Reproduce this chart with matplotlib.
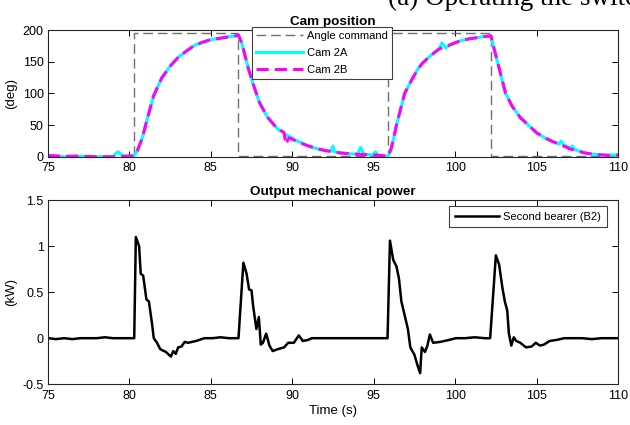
import matplotlib
matplotlib.use('Agg')
import matplotlib.pyplot as plt

plt.rcParams['font.family'] = ['Liberation Sans', 'DejaVu Sans']
plt.rcParams['font.size'] = 8

# Angle command (step)
cmd_t = [75, 80.3, 80.3, 86.7, 86.7, 95.9, 95.9, 102.2, 102.2, 110]
cmd_deg = [0, 0, 195, 195, 2, 2, 195, 195, 2, 2]

# Cam 2A position
cam_a_t = [75, 76, 77, 78, 79, 79.3, 79.6, 80, 80.3, 80.5, 80.8, 81.1, 81.5, 82, 82.5, 83, 83.5,
           84, 84.5, 85, 85.5, 86, 86.5, 86.7, 86.9, 87.1, 87.3, 87.6, 88, 88.5, 89, 89.2, 89.4,
           89.6, 90, 90.2, 90.5, 91, 91.5, 92, 92.4, 92.5, 92.6, 93, 94, 94.2, 94.4, 95, 95.1,
           95.3, 95.9, 96.1, 96.4, 96.9, 97.3, 97.7, 98, 98.5, 99, 99.2, 99.4, 99.8, 100.3,
           100.8, 101.3, 101.8, 102.2, 102.4, 102.6, 102.9, 103.1, 103.5, 104, 104.5, 105,
           105.5, 106, 106.4, 106.5, 106.7, 107.1, 107.2, 107.3, 107.5, 108, 108.5, 109, 110]
cam_a = [1, 0, 1, 0, 1, 8, 2, 1, 2, 10, 30, 60, 97, 125, 143, 157, 167,
         176, 181, 185, 187, 189, 191, 192, 180, 160, 140, 115, 85, 62, 47, 42, 40,
         35, 30, 26, 23, 17, 13, 10, 9, 17, 8, 6, 4, 15, 4, 3, 8,
         2, 1, 15, 50, 100, 120, 138, 148, 160, 170, 180, 172, 178, 183,
         186, 188, 190, 191, 170, 150, 120, 100, 80, 62, 50, 38,
         30, 24, 20, 25, 18, 14, 17, 12, 10, 6, 4, 3, 3]

# Cam 2B position
cam_b_t = [75, 76, 77, 78, 79, 80, 80.3, 80.5, 80.8, 81.1, 81.5, 82, 82.5, 83, 83.5,
           84, 84.5, 85, 85.5, 86, 86.5, 86.7, 86.9, 87.1, 87.3, 87.6, 88, 88.5, 89, 89.5,
           89.6, 89.8, 90.5, 91, 91.5, 92, 93, 94, 95, 95.9, 96.1, 96.4, 96.9, 97.3, 97.7, 98,
           98.5, 99, 99.4, 99.8, 100.3, 100.8, 101.3, 101.8, 102.2, 102.4, 102.6, 102.9, 103.1,
           103.5, 104, 104.5, 105, 105.5, 106, 106.5, 107, 107.5, 108, 108.5, 109, 109.5, 110]
cam_b = [2, 1, 1, 0, 0, 1, 2, 10, 30, 60, 97, 125, 143, 157, 167,
         176, 181, 185, 187, 189, 191, 192, 180, 160, 140, 115, 85, 62, 47, 38,
         20, 30, 22, 17, 13, 10, 6, 4, 3, 1, 15, 50, 100, 120, 138, 148,
         160, 170, 174, 178, 183, 186, 188, 190, 191, 170, 150, 120, 100,
         80, 62, 50, 38, 30, 24, 19, 13, 9, 6, 4, 3, 2, 3]

# Output mechanical power, second bearer (B2)
pow_t = [75, 75.5, 76, 76.5, 77, 77.5, 78, 78.5, 79, 79.5, 80, 80.3, 80.4, 80.6, 80.7, 80.85,
         81.05, 81.2, 81.4, 81.5, 81.7, 81.9, 82.25, 82.55, 82.7, 82.85, 83.0, 83.2, 83.4, 83.6,
         84.1, 84.6, 85.1, 85.6, 86.1, 86.7, 87.0, 87.2, 87.35, 87.5, 87.6, 87.8, 87.95, 88.07,
         88.2, 88.4, 88.6, 88.8, 89.1, 89.5, 89.75, 90.1, 90.4, 90.65, 90.95, 91.2, 91.8, 92.4,
         93, 93.6, 94.2, 94.8, 95.4, 95.85, 96.0, 96.2, 96.4, 96.55, 96.7, 96.9, 97.1, 97.25,
         97.5, 97.7, 97.85, 97.95, 98.15, 98.3, 98.45, 98.65, 99.1, 99.6, 100.05, 100.6, 101.2,
         101.8, 102.15, 102.5, 102.7, 102.9, 103.05, 103.2, 103.3, 103.45, 103.6, 103.75,
         104.0, 104.35, 104.7, 104.95, 105.2, 105.45, 105.8, 106.2, 106.7, 107.2, 107.8,
         108.4, 109, 109.5, 110]
pow_kw = [0, -0.01, 0.0, -0.01, 0.0, 0.0, 0.0, 0.01, 0.0, 0.0, 0.0, 0.0, 1.1, 1.0, 0.7, 0.68,
          0.42, 0.4, 0.15, 0.0, -0.05, -0.12, -0.15, -0.2, -0.14, -0.17, -0.1, -0.09, -0.04,
          -0.05, -0.03, 0.0, 0.0, 0.01, 0.0, 0.0, 0.82, 0.7, 0.53, 0.52, 0.35, 0.1, 0.23, -0.07,
          -0.05, 0.05, -0.08, -0.14, -0.12, -0.1, -0.05, -0.05, 0.03, -0.03, -0.02, 0.0, 0.0,
          0.0, 0.0, 0.0, 0.0, 0.0, 0.0, 0.0, 1.06, 0.85, 0.78, 0.65, 0.4, 0.25, 0.1, -0.1,
          -0.18, -0.3, -0.38, -0.1, -0.15, -0.08, 0.04, -0.05, -0.04, -0.02, 0.0, 0.0, 0.01,
          0.0, 0.0, 0.9, 0.8, 0.55, 0.4, 0.3, 0.05, -0.08, 0.01, -0.03,
          -0.05, -0.1, -0.09, -0.05, -0.08, -0.07, -0.03, -0.02, 0.0, 0.0, 0.0,
          -0.01, 0.0, 0.0, 0.0]

fig = plt.figure(figsize=(6.3, 4.25), dpi=100)
ax1 = fig.add_axes([0.076, 0.631, 0.905, 0.298])
ax2 = fig.add_axes([0.076, 0.096, 0.905, 0.433])

# cropped caption from the page above the figure
fig.text(388 / 630, 1 - 5 / 425, '(a) Operating the switch', family=['Liberation Serif', 'DejaVu Serif'],
         fontsize=19.5, va='baseline', ha='left')

ax1.plot(cmd_t, cmd_deg, color='#707070', linestyle=(0, (7, 3.5)), linewidth=1, label='Angle command')
ax1.plot(cam_a_t, cam_a, color='#00ffff', linewidth=2.2, label='Cam 2A')
ax1.plot(cam_b_t, cam_b, color='#ff00ff', linestyle=(0, (4, 2)), linewidth=2.2, label='Cam 2B')
ax1.set_xlim(75, 110)
ax1.set_ylim(0, 200)
ax1.set_yticks([0, 50, 100, 150, 200])
ax1.set_xticks(range(75, 111, 5))
ax1.set_ylabel('(deg)', fontsize=9.5)
ax1.set_title('Cam position', fontweight='bold', fontsize=9.7, pad=4)
leg1 = ax1.legend(loc='upper left', bbox_to_anchor=(0.358, 1.025), borderaxespad=0, fontsize=8,
                  fancybox=False, framealpha=1, edgecolor='#404040', handlelength=4.2,
                  handletextpad=0.4, borderpad=0.35, labelspacing=0.65)
leg1.get_frame().set_linewidth(0.8)

ax2.plot(pow_t, pow_kw, color='black', linewidth=1.8, label='Second bearer (B2)')
ax2.set_xlim(75, 110)
ax2.set_ylim(-0.5, 1.5)
ax2.set_yticks([-0.5, 0, 0.5, 1, 1.5])
ax2.set_yticklabels(['-0.5', '0', '0.5', '1', '1.5'])
ax2.set_xticks(range(75, 111, 5))
ax2.set_ylabel('(kW)', fontsize=9.5)
ax2.set_xlabel('Time (s)', fontsize=9.5, labelpad=2)
ax2.set_title('Output mechanical power', fontweight='bold', fontsize=9.7, pad=4)
leg2 = ax2.legend(loc='upper right', bbox_to_anchor=(0.98, 0.967), borderaxespad=0, fontsize=8,
                  fancybox=False, framealpha=1, edgecolor='#404040', handlelength=4.0,
                  handletextpad=0.35, borderpad=0.5)
leg2.get_frame().set_linewidth(0.8)

for ax in (ax1, ax2):
    ax.tick_params(direction='in', top=True, right=True, length=4, width=0.7, labelsize=9)
    ax.tick_params(axis='x', pad=4)
    ax.tick_params(axis='y', pad=3)
    for s in ax.spines.values():
        s.set_linewidth(0.8)
        s.set_color('#262626')

fig.savefig('out.png', dpi=100)
